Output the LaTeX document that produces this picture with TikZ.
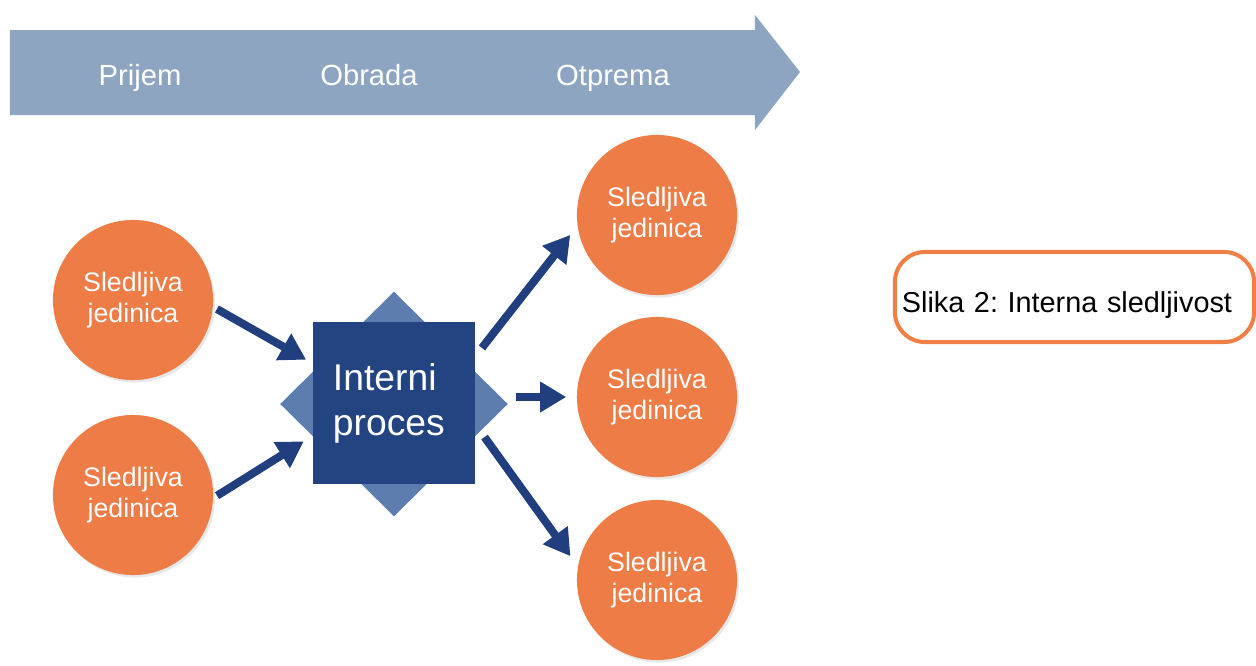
\documentclass[tikz,border=0pt]{standalone}
\usepackage{fontspec}
\setmainfont{Liberation Sans}
\usetikzlibrary{shapes.geometric,arrows.meta,shadows}
\frenchspacing

\definecolor{bandblue}{RGB}{141,165,193}
\definecolor{navy}{RGB}{33,63,126}
\definecolor{procblue}{RGB}{35,67,129}
\definecolor{diamblue}{RGB}{92,125,174}
\definecolor{unitorange}{RGB}{237,124,70}
\definecolor{caporange}{RGB}{240,127,69}

\begin{document}
\begin{tikzpicture}[x=0.01cm, y=-0.01cm,
      unit/.style = {shape=circle, minimum size=1.6cm, inner sep=0pt,
        fill=unitorange, text=white, align=center,
        font=\fontsize{7.6}{8.8}\selectfont,
        drop shadow={opacity=0.18, shadow xshift=0.02cm, shadow yshift=-0.025cm}},
      stage/.style = {anchor=base, text=white, inner sep=0pt,
        font=\fontsize{8.3}{10}\selectfont},
      procbox/.style = {shape=rectangle, minimum size=1.62cm, fill=procblue,
        text=white, text width=1.22cm, inner xsep=0.2cm, align=left,
        font=\fontsize{10.6}{12.8}\selectfont},
      diam/.style = {shape=diamond, minimum width=2.28cm, minimum height=2.25cm,
        inner sep=0pt, fill=diamblue},
      flow/.style = {draw=navy, line width=0.08cm,
        -{Triangle[length=0.26cm, width=0.29cm]}},
      capbox/.style = {shape=rectangle, rounded corners=0.3cm, draw=caporange,
        line width=0.04cm, minimum width=3.59cm, minimum height=0.9cm,
        text width=3.45cm, inner xsep=0.07cm, align=left,
        text height=0.36cm, text depth=0.06cm,
        font=\fontsize{8.2}{10}\selectfont}]
  \useasboundingbox (0,0) rectangle (1256,666);
  % process band
  \fill[bandblue] (10,30) -- (755,30) -- (755,15) -- (800,72)
    -- (755,130) -- (755,115) -- (10,115) -- cycle;
  \node[stage] (prijem) at (140,85) {Prijem};
  \node[stage] (obrada) at (369,85) {Obrada};
  \node[stage] (otprema) at (613,85) {Otprema};
  % internal process
  \node[diam] (diam) at (394,404) {};
  \node[procbox] (proc) at (394,403) {Interni\\proces};
  % traceable units
  \node[unit] (in1) at (133,300) {Sledljiva\\jedinica};
  \node[unit] (in2) at (133,495) {Sledljiva\\jedinica};
  \node[unit] (out1) at (657,215) {Sledljiva\\jedinica};
  \node[unit] (out2) at (657,397) {Sledljiva\\jedinica};
  \node[unit] (out3) at (657,580) {Sledljiva\\jedinica};
  % flows
  \draw[flow, shorten <=0.04cm, shorten >=0.07cm] (in1.-5) -- (proc.154);
  \draw[flow, shorten <=0.04cm, shorten >=0.1cm] (in2.-2) -- (proc.202);
  \draw[flow, shorten <=0.1cm, shorten >=0.11cm] (proc.30) -- (out1.188);
  \draw[flow, shorten <=0.07cm, shorten >=0.1cm] (diam.east |- out2.west) -- (out2.west);
  \draw[flow, shorten <=0.15cm, shorten >=0.12cm] (proc.-15) -- (out3.170);
  % caption
  \node[capbox] (cap) at (1074.5,297) {Slika 2: Interna sledljivost};
\end{tikzpicture}
\end{document}
